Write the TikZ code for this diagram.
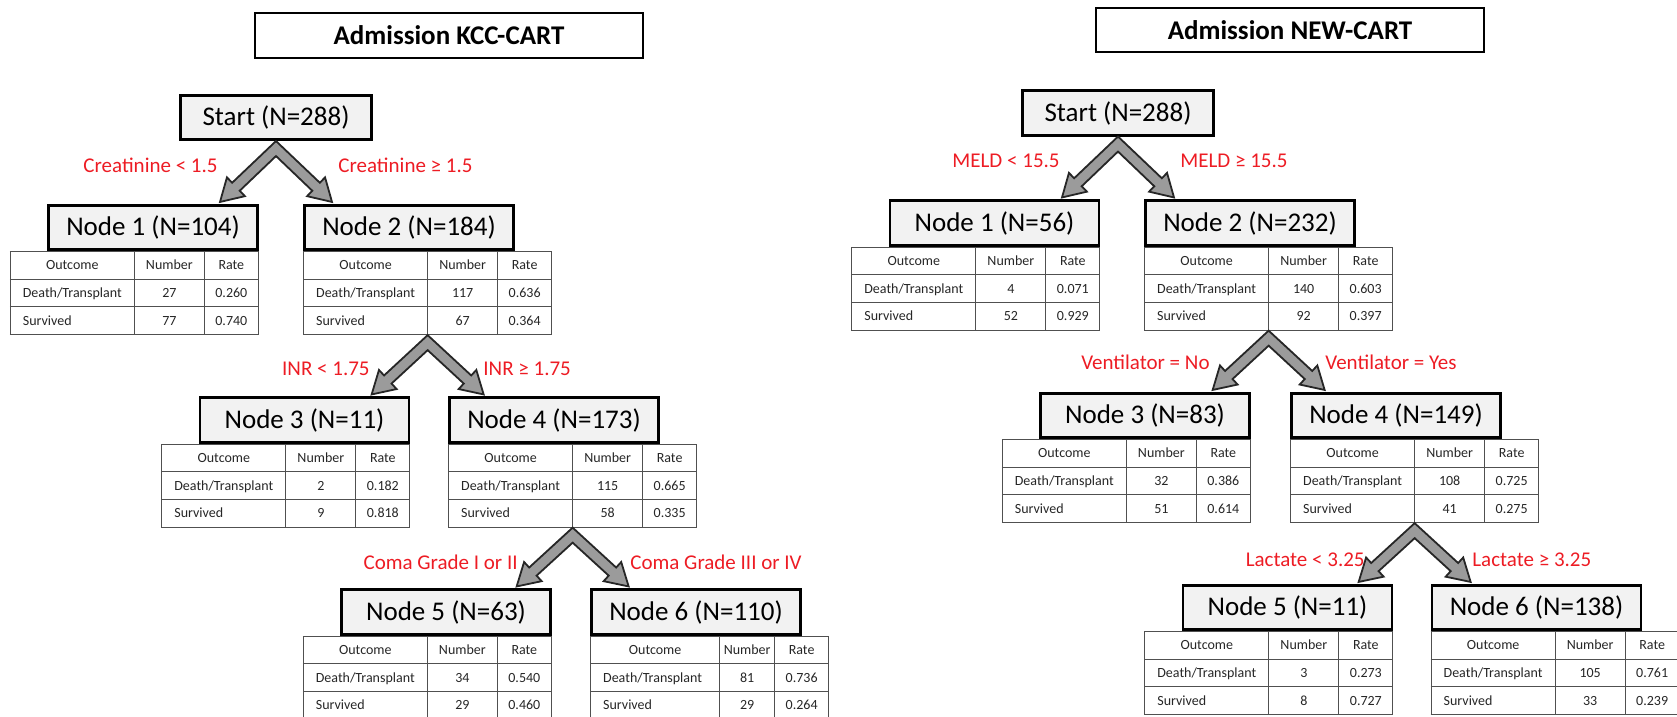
\documentclass[tikz,border=0pt]{standalone}
\usepackage{fontspec}
\setmainfont{Carlito}
\usepackage{array}
\usepackage{colortbl}
\usetikzlibrary{calc}

\definecolor{boxgray}{RGB}{242,242,242}
\definecolor{arrowgray}{RGB}{155,155,155}
\definecolor{splitred}{RGB}{237,28,36}
\definecolor{rulegray}{RGB}{80,80,80}

\newcolumntype{C}[1]{>{\centering\arraybackslash}p{#1}}
\newcommand{\rowstrut}{\rule[-4.4pt]{0pt}{13.35pt}}

% table under a tree node: three column widths, then deaths (n, rate) and survivors (n, rate)
\newcommand{\outcometab}[7]{%
  \setlength{\tabcolsep}{0pt}\setlength{\arrayrulewidth}{0.5pt}\arrayrulecolor{rulegray}%
  \begin{tabular}{|>{\hspace{6pt}}p{#1}|C{#2}|C{#3}|}
    \hline
    \multicolumn{1}{|C{#1}|}{\rowstrut Outcome} & Number & Rate \\ \hline
    \rowstrut Death/Transplant & #4 & #5 \\ \hline
    \rowstrut Survived & #6 & #7 \\ \hline
  \end{tabular}}

% two block arrows leaving one fork point: fork, left tip, right tip
\newcommand{\splitarrows}[3]{%
  \draw[splitarrow] ($(#1)+(0,-7.5)$)
    -- ($(#2)!11pt!(#1)!2.75pt!90:(#1)$) -- ($(#2)!11pt!(#1)!6.5pt!90:(#1)$) -- (#2)
    -- ($(#2)!11pt!(#1)!6.5pt!-90:(#1)$) -- ($(#2)!11pt!(#1)!2.75pt!-90:(#1)$)
    -- ($(#1)+(0,7.5)$)
    -- ($(#3)!11pt!(#1)!2.75pt!90:(#1)$) -- ($(#3)!11pt!(#1)!6.5pt!90:(#1)$) -- (#3)
    -- ($(#3)!11pt!(#1)!6.5pt!-90:(#1)$) -- ($(#3)!11pt!(#1)!2.75pt!-90:(#1)$)
    -- cycle;}

\tikzset{
  titlebox/.style={draw, line width=1.15pt, fill=white, minimum width=194pt, minimum height=22.5pt,
    font=\fontsize{13.5}{16}\selectfont\bfseries},
  startbox/.style={draw, line width=1.35pt, fill=boxgray, minimum width=95.5pt, minimum height=22.2pt,
    font=\fontsize{13.5}{16}\selectfont},
  treebox/.style={startbox, minimum width=104.5pt},
  splitlabel/.style={text=splitred, font=\fontsize{10.5}{12}\selectfont, inner sep=0pt},
  tablebox/.style={inner sep=0pt, outer sep=0pt, font=\fontsize{7}{8.4}\selectfont, text=black!85},
  splitarrow/.style={draw=black!85, line width=0.9pt, fill=arrowgray, line join=miter},
}

\begin{document}
\begin{tikzpicture}[x=0.5pt, y=-0.5pt]
  \useasboundingbox (0,0) rectangle (1677,717);

  % KCC tree
  \node[titlebox] (ktitle) at (449,35.5) {Admission KCC-CART};
  \node[startbox] (kstart) at (276,117.5) {Start (N=288)};
  \node[treebox] (k1) at (153,227.5) {Node 1 (N=104)};
  \node[treebox] (k2) at (409,227.5) {Node 2 (N=184)};
  \node[treebox] (k3) at (304.5,420) {Node 3 (N=11)};
  \node[treebox] (k4) at (554,420) {Node 4 (N=173)};
  \node[treebox] (k5) at (446,612) {Node 5 (N=63)};
  \node[treebox] (k6) at (696,612) {Node 6 (N=110)};

  \node[tablebox, anchor=north east] (k1tab) at (k1.south east) {\outcometab{61.5pt}{34.5pt}{26.5pt}{27}{0.260}{77}{0.740}};
  \node[tablebox, anchor=north west] (k2tab) at (k2.south west) {\outcometab{61.5pt}{34.5pt}{26.5pt}{117}{0.636}{67}{0.364}};
  \node[tablebox, anchor=north east] (k3tab) at (k3.south east) {\outcometab{61.5pt}{34.5pt}{26.5pt}{2}{0.182}{9}{0.818}};
  \node[tablebox, anchor=north west] (k4tab) at (k4.south west) {\outcometab{61.5pt}{34.5pt}{26.5pt}{115}{0.665}{58}{0.335}};
  \node[tablebox, anchor=north east] (k5tab) at (k5.south east) {\outcometab{61.5pt}{34.5pt}{26.5pt}{34}{0.540}{29}{0.460}};
  \node[tablebox, anchor=north west] (k6tab) at (k6.south west) {\outcometab{64pt}{27pt}{26.5pt}{81}{0.736}{29}{0.264}};

  % forks and arrow tips
  \coordinate (kf1) at ($(kstart.south)+(0,7.5)$);
  \coordinate (kf2) at ($(k2tab.south west)+(124.5,7.5)$);
  \coordinate (kf3) at ($(k4tab.south west)+(124.5,7.5)$);
  \coordinate (k1tip) at ($(kf1 |- k1.north)+(-56,-2)$);
  \coordinate (k2tip) at ($(kf1 |- k2.north)+(56,-2)$);
  \coordinate (k3tip) at ($(kf2 |- k3.north)+(-56,-2)$);
  \coordinate (k4tip) at ($(kf2 |- k4.north)+(56,-2)$);
  \coordinate (k5tip) at ($(kf3 |- k5.north)+(-56,-2)$);
  \coordinate (k6tip) at ($(kf3 |- k6.north)+(56,-2)$);

  \splitarrows{kf1}{k1tip}{k2tip}
  \splitarrows{kf2}{k3tip}{k4tip}
  \splitarrows{kf3}{k5tip}{k6tip}

  % split rules
  \node[splitlabel, anchor=base east] (kl1) at (218,173) {Creatinine < 1.5};
  \node[splitlabel, anchor=base west] (kr1) at (338,173) {Creatinine ≥ 1.5};
  \node[splitlabel, anchor=base east] (kl2) at (370,375) {INR < 1.75};
  \node[splitlabel, anchor=base west] (kr2) at (483,375) {INR ≥ 1.75};
  \node[splitlabel, anchor=base east] (kl3) at (518,569) {Coma Grade I or II};
  \node[splitlabel, anchor=base west] (kr3) at (630,569) {Coma Grade III or IV};

  % NEW tree
  \node[titlebox, minimum height=22pt] (ntitle) at (1290,30) {Admission NEW-CART};
  \node[startbox] (nstart) at (1118,113) {Start (N=288)};
  \node[treebox] (n1) at (994.5,223) {Node 1 (N=56)};
  \node[treebox] (n2) at (1250,223) {Node 2 (N=232)};
  \node[treebox] (n3) at (1145,415.5) {Node 3 (N=83)};
  \node[treebox] (n4) at (1396,415.5) {Node 4 (N=149)};
  \node[treebox] (n5) at (1287.5,607.5) {Node 5 (N=11)};
  \node[treebox] (n6) at (1536.5,607.5) {Node 6 (N=138)};

  \node[tablebox, anchor=north east] (n1tab) at (n1.south east) {\outcometab{61.5pt}{34.5pt}{26.5pt}{4}{0.071}{52}{0.929}};
  \node[tablebox, anchor=north west] (n2tab) at (n2.south west) {\outcometab{61.5pt}{34.5pt}{26.5pt}{140}{0.603}{92}{0.397}};
  \node[tablebox, anchor=north east] (n3tab) at (n3.south east) {\outcometab{61.5pt}{34.5pt}{26.5pt}{32}{0.386}{51}{0.614}};
  \node[tablebox, anchor=north west] (n4tab) at (n4.south west) {\outcometab{61.5pt}{34.5pt}{26.5pt}{108}{0.725}{41}{0.275}};
  \node[tablebox, anchor=north east] (n5tab) at (n5.south east) {\outcometab{61.5pt}{34.5pt}{26.5pt}{3}{0.273}{8}{0.727}};
  \node[tablebox, anchor=north west] (n6tab) at (n6.south west) {\outcometab{61.5pt}{34.5pt}{26.5pt}{105}{0.761}{33}{0.239}};

  \coordinate (nf1) at ($(nstart.south)+(0,7.5)$);
  \coordinate (nf2) at ($(n2tab.south west)+(124.5,7.5)$);
  \coordinate (nf3) at ($(n4tab.south west)+(124.5,7.5)$);
  \coordinate (n1tip) at ($(nf1 |- n1.north)+(-56,-2)$);
  \coordinate (n2tip) at ($(nf1 |- n2.north)+(56,-2)$);
  \coordinate (n3tip) at ($(nf2 |- n3.north)+(-56,-2)$);
  \coordinate (n4tip) at ($(nf2 |- n4.north)+(56,-2)$);
  \coordinate (n5tip) at ($(nf3 |- n5.north)+(-56,-2)$);
  \coordinate (n6tip) at ($(nf3 |- n6.north)+(56,-2)$);

  \splitarrows{nf1}{n1tip}{n2tip}
  \splitarrows{nf2}{n3tip}{n4tip}
  \splitarrows{nf3}{n5tip}{n6tip}

  \node[splitlabel, anchor=base east] (nl1) at (1060,168) {MELD < 15.5};
  \node[splitlabel, anchor=base west] (nr1) at (1180,168) {MELD ≥ 15.5};
  \node[splitlabel, anchor=base east] (nl2) at (1210,369) {Ventilator = No};
  \node[splitlabel, anchor=base west] (nr2) at (1325,369) {Ventilator = Yes};
  \node[splitlabel, anchor=base east] (nl3) at (1365,566) {Lactate < 3.25};
  \node[splitlabel, anchor=base west] (nr3) at (1472,566) {Lactate ≥ 3.25};
\end{tikzpicture}
\end{document}
